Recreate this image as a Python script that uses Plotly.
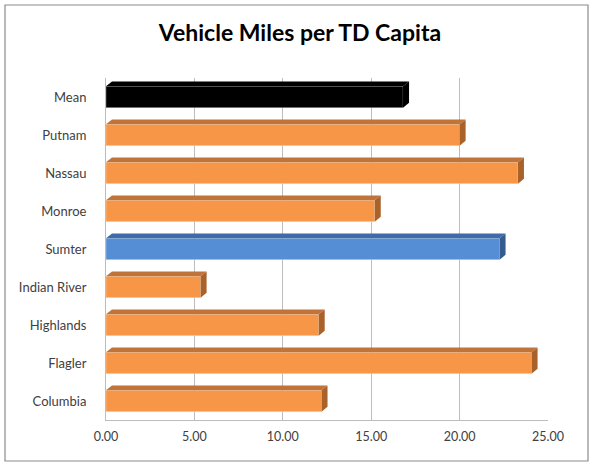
import plotly.graph_objects as go

categories = ["Columbia", "Flagler", "Highlands", "Indian River", "Sumter",
              "Monroe", "Nassau", "Putnam", "Mean"]
values = [12.19, 24.07, 12.03, 5.35, 22.26, 15.2, 23.3, 20.0, 16.8]
x_ticks = [0, 5, 10, 15, 20, 25]

ORANGE, ORANGE_TOP, ORANGE_SIDE = "#F79646", "#C0743A", "#A9622A"
BLUE, BLUE_TOP, BLUE_SIDE = "#558ED5", "#3F6CA6", "#345C8E"
BLACK = "#000000"

def colors_for(cat):
    if cat == "Mean":
        return BLACK, BLACK, BLACK
    if cat == "Sumter":
        return BLUE, BLUE_TOP, BLUE_SIDE
    return ORANGE, ORANGE_TOP, ORANGE_SIDE

W, H = 589, 462
ml, mr, mt, mb = 106, 41, 78, 42
pw = W - ml - mr
ph = H - mt - mb

pos = list(range(len(categories)))
face_h = 0.56
dx = 0.34   # depth shift in value units
dy = 0.13   # depth shift in category units

fig = go.Figure()

fig.add_trace(go.Bar(
    y=pos, x=values, orientation="h", width=face_h,
    marker=dict(color=[colors_for(c)[0] for c in categories],
                line=dict(color="rgba(255,255,255,0.6)", width=0.5)),
    hoverinfo="x+text", text=categories, textposition="none",
    showlegend=False))

for p, v, c in zip(pos, values, categories):
    _, top_c, side_c = colors_for(c)
    yt = p + face_h / 2
    yb = p - face_h / 2
    fig.add_trace(go.Scatter(
        x=[0, v, v + dx, dx, 0], y=[yt, yt, yt + dy, yt + dy, yt],
        fill="toself", fillcolor=top_c, mode="lines",
        line=dict(width=0, color=top_c), hoverinfo="skip", showlegend=False))
    fig.add_trace(go.Scatter(
        x=[v, v + dx, v + dx, v, v], y=[yb, yb + dy, yt + dy, yt, yb],
        fill="toself", fillcolor=side_c, mode="lines",
        line=dict(width=0, color=side_c), hoverinfo="skip", showlegend=False))

# outer chart border
x0p = (5 - ml) / pw
x1p = (588 - ml) / pw
y0p = -(461 - (H - mb)) / ph
y1p = 1 + (mt - 5) / ph
fig.add_shape(type="rect", xref="paper", yref="paper",
              x0=x0p, x1=x1p, y0=y0p, y1=y1p,
              line=dict(color="#8C8C8C", width=1.2), layer="below")

fig.update_layout(
    width=W, height=H,
    margin=dict(l=ml, r=mr, t=mt, b=mb, autoexpand=False),
    paper_bgcolor="white", plot_bgcolor="white",
    font=dict(family="Lato, 'Open Sans', sans-serif", color="#404040", size=12),
    title=dict(text="<b>Vehicle Miles per TD Capita</b>",
               x=(300 - ml) / pw, xref="paper", xanchor="center",
               y=1 - 33 / H, yanchor="middle",
               font=dict(size=23, color="#000000", family="Lato, 'Open Sans', sans-serif")),
    bargap=0.45,
)
fig.update_xaxes(range=[0, 25], tickvals=x_ticks, tickformat=".2f",
                 showgrid=True, gridcolor="#BDBDBD", gridwidth=1,
                 showline=True, linecolor="#BDBDBD", zeroline=False,
                 ticks="", ticklen=0, automargin=False, ticklabelstandoff=5,
                 tickfont=dict(size=12.5, color="#404040"))
fig.update_yaxes(range=[-0.5, 8.5], tickvals=pos, ticktext=categories,
                 showgrid=False, showline=True, linecolor="#BDBDBD",
                 zeroline=False, ticks="", ticklabelstandoff=16, automargin=False,
                 tickfont=dict(size=13, color="#404040"))

fig.write_html("out.html", config={"displayModeBar": False},
               post_script="document.body.style.margin='0';document.body.style.padding='0';")
